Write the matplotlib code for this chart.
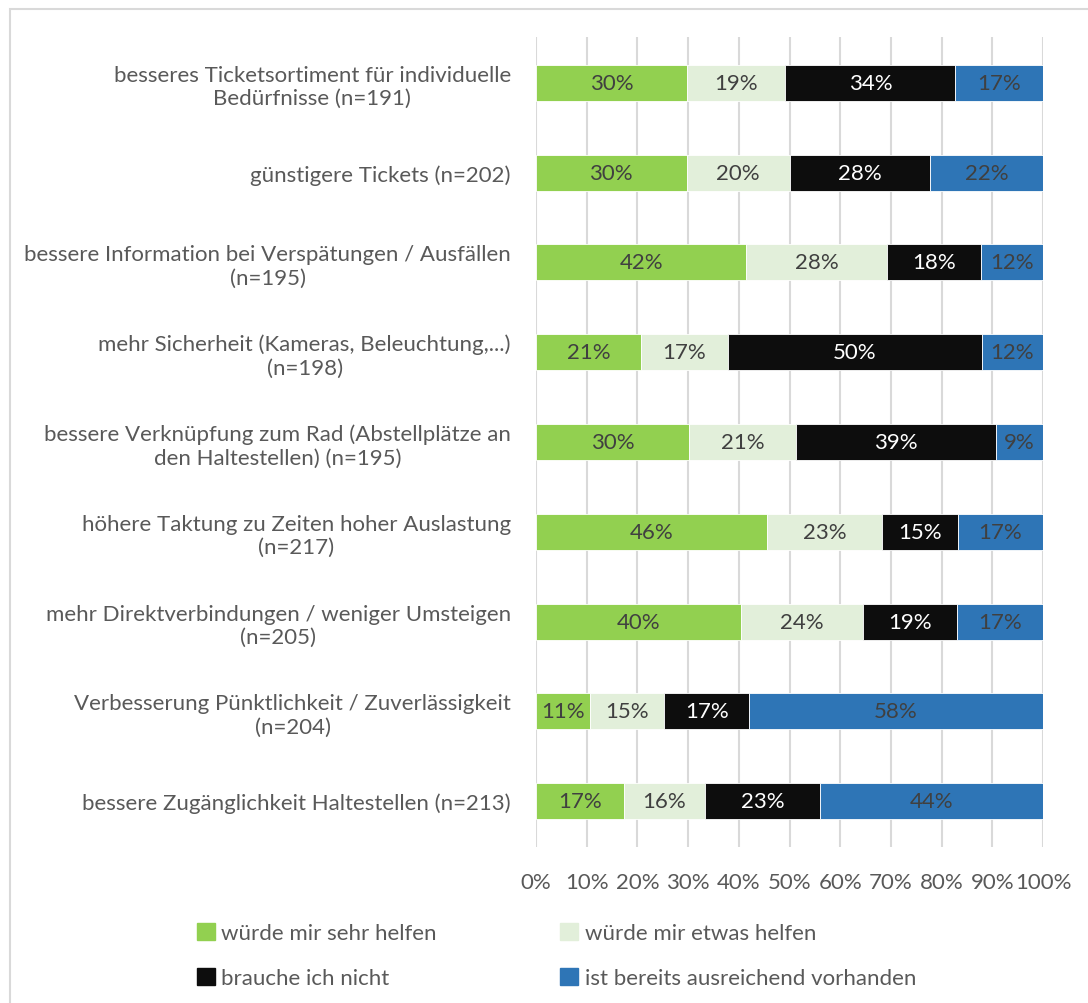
import numpy as np
import matplotlib.pyplot as plt
from matplotlib.patches import Rectangle, Patch

plt.rcParams['font.family'] = ['Lato', 'DejaVu Sans']

categories = [
    "besseres Ticketsortiment für individuelle\nBedürfnisse (n=191)",
    "günstigere Tickets (n=202)",
    "bessere Information bei Verspätungen / Ausfällen\n(n=195)",
    "mehr Sicherheit (Kameras, Beleuchtung,...)\n(n=198)",
    "bessere Verknüpfung zum Rad (Abstellplätze an\nden Haltestellen) (n=195)",
    "höhere Taktung zu Zeiten hoher Auslastung\n(n=217)",
    "mehr Direktverbindungen / weniger Umsteigen\n(n=205)",
    "Verbesserung Pünktlichkeit / Zuverlässigkeit\n(n=204)",
    "bessere Zugänglichkeit Haltestellen (n=213)",
]

sehr = [29.8, 29.7, 41.5, 20.7, 30.2, 45.6, 40.5, 10.7, 17.4]
etwas = [19.4, 20.3, 27.7, 17.2, 21.1, 22.6, 23.9, 14.6, 15.9]
nicht = [33.5, 27.7, 18.5, 50.0, 39.4, 15.0, 18.6, 16.7, 22.7]
vorhanden = [17.3, 22.3, 12.3, 12.1, 9.3, 16.8, 17.0, 58.0, 44.0]

series = [sehr, etwas, nicht, vorhanden]
names = ["würde mir sehr helfen", "würde mir etwas helfen",
         "brauche ich nicht", "ist bereits ausreichend vorhanden"]
colors = ["#92D050", "#E2EFDA", "#0D0D0D", "#2E75B6"]
text_colors = ["#404040", "#404040", "white", "#404040"]
fs = 16

fig = plt.figure(figsize=(10.88, 10.04), dpi=100)
ax = fig.add_axes([536 / 1088, 1 - 848 / 1004, 507 / 1088, 810 / 1004])

y = np.arange(len(categories))
left = np.zeros(len(categories))
for vals, c, tc in zip(series, colors, text_colors):
    vals = np.array(vals)
    ax.barh(y, vals, left=left, height=0.4, color=c, edgecolor='white', linewidth=0.6, zorder=3)
    for yi, l, v in zip(y, left, vals):
        ax.text(l + v / 2, yi, "{:.0f}%".format(v), ha='center', va='center',
                color=tc, fontsize=fs, zorder=4)
    left = left + vals

ax.set_xlim(0, 100)
ax.set_ylim(len(categories) - 0.49, -0.51)
ax.set_xticks(np.arange(0, 101, 10))
ax.set_xticklabels(["{}%".format(t) for t in range(0, 101, 10)])
ax.set_yticks(y)
ax.set_yticklabels(categories, multialignment='center')
ax.tick_params(axis='both', length=0, labelsize=fs, labelcolor='#595959')
ax.tick_params(axis='x', pad=18)
ax.tick_params(axis='y', pad=18)
ax.grid(axis='x', color='#D9D9D9', linewidth=1.5, zorder=0)
for s in ax.spines.values():
    s.set_visible(False)

handles = [Patch(color=c) for c in colors]
order = [0, 2, 1, 3]
fig.legend([handles[i] for i in order], [names[i] for i in order], ncol=2,
           loc='upper left', bbox_to_anchor=(197 / 1088, 1 - 924 / 1004),
           borderpad=0, borderaxespad=0,
           frameon=False, fontsize=fs, labelcolor='#595959',
           handlelength=0.8, handleheight=0.8, handletextpad=0.3,
           columnspacing=5.55, labelspacing=1.1)

fig.add_artist(Rectangle((10 / 1088, -0.1), 1.2, 1.1 - 10 / 1004,
                         transform=fig.transFigure, fill=False,
                         edgecolor='#D9D9D9', linewidth=1.5))

fig.savefig("out.png", dpi=100)
